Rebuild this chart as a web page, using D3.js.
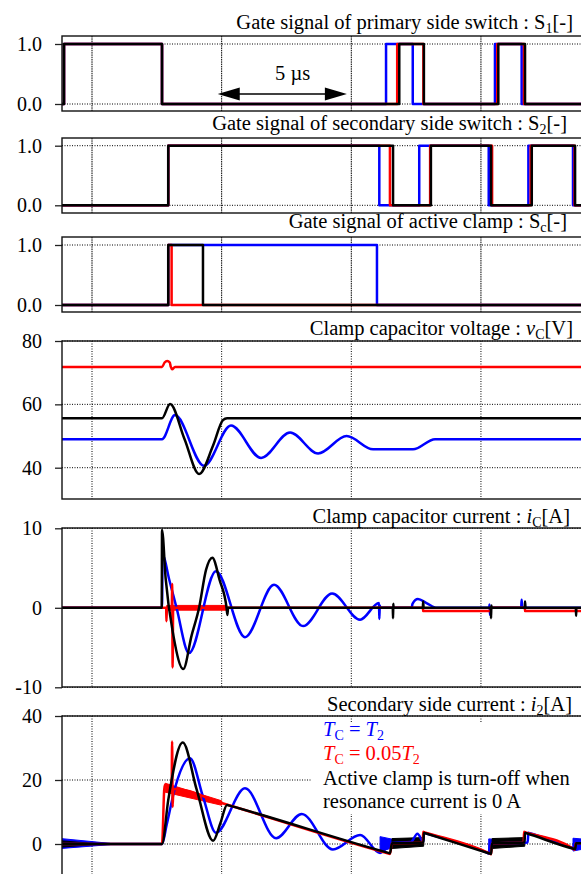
<!DOCTYPE html>
<html>
<head>
<meta charset="utf-8">
<script src="https://cdn.jsdelivr.net/npm/d3@7"></script>
<style>
body { margin: 0; background: #fff; }
svg, svg text { font-family: "Liberation Serif", "Times New Roman", "DejaVu Serif", serif; }
</style>
</head>
<body>
<svg id="chart" width="581" height="874" font-family="Liberation Serif, Times New Roman, DejaVu Serif, serif"></svg>
<script>
// time in µs, vertical grid every 5 µs
var gridTimes = [0, 5, 10, 15];
var gateTicks = [0, 1];
var vcTicks = [40, 60, 80];
var icTicks = [-10, 0, 10];
var i2Ticks = [0, 20, 40];

// gate signals [t, level]
var s1Black = [[-1.2,0],[-1.08,1],[2.70,0],[11.85,1],[12.80,0],[15.67,1],[16.70,0],[19,0]];
var s1Red   = [[-1.2,0],[-1.08,1],[2.70,0],[11.77,1],[12.78,0],[15.63,1],[16.66,0],[19,0]];
var s1Blue  = [[-1.2,0],[-1.08,1],[2.70,0],[11.34,1],[12.37,0],[15.54,1],[16.57,0],[19,0]];

var s2Black = [[-1.2,0],[2.94,1],[11.61,0],[13.07,1],[15.39,0],[16.96,1],[18.63,0],[19,0]];
var s2Red   = [[-1.2,0],[2.94,1],[11.49,0],[13.04,1],[15.43,0],[16.92,1],[18.61,0],[19,0]];
var s2Blue  = [[-1.2,0],[2.94,1],[11.08,0],[12.62,1],[15.30,0],[16.83,1],[18.55,0],[19,0]];

var scBlack = [[-1.2,0],[2.94,1],[4.28,0],[19,0]];
var scRed   = [[-1.2,0],[2.94,1],[3.07,0],[19,0]];
var scBlue  = [[-1.2,0],[2.94,1],[10.99,0],[19,0]];

// clamp capacitor voltage [t, V]
var vcRed   = [[-1.2,71.8],[2.70,71.8],[2.80,73.2],[2.90,73.7],[3.00,73.2],[3.04,71.8],[3.09,71.1],[3.20,71.8],[19,71.8]];
var vcBlack = [[-1.2,55.6],[2.70,55.6],[3.01,60.1],[3.57,49.0],[4.13,38.0],[4.67,47.0],[5.05,55.0],[5.21,55.6],[19,55.6]];
var vcBlue  = [[-1.2,49.0],[2.70,49.0],[3.20,56.6],[4.32,40.6],[5.36,53.3],[6.52,43.1],[7.64,51.1],[8.72,44.5],[9.82,50.0],[10.84,45.8],[12.38,45.8],[13.23,49.0],[19,49.0]];

// clamp capacitor current [t, A]
var icBlack = [[-1.2,0],[2.69,0],[2.70,9.8],[2.84,3.7],[3.14,-3.5],[3.52,-7.7],[3.84,-3.5],[4.13,0],[4.40,4.8],[4.64,6.3],[4.92,3.5],[5.19,0],[5.22,-0.9],[5.25,0],
  [11.60,0],[11.61,-1.3],[11.62,0.5],[11.63,0],[12.76,0],[12.77,0.8],[12.79,0],[15.38,0],[15.39,-1.3],[15.40,0.3],[15.41,0],[16.69,0],[16.70,0.8],[16.72,0],[18.66,0],[18.67,-1.0],[18.68,0],[19,0]];
var icBlue  = [[-1.2,0],[2.70,0],[2.72,6.6],[2.99,3.4],[3.26,0],[3.74,-5.7],[4.78,4.6],[5.90,-3.7],[7.02,2.9],[8.14,-2.3],[9.26,1.8],[10.34,-1.5],[11.07,0.6],[11.08,-1.4],[11.10,0.3],[11.12,0],
  [12.33,0],[12.36,0.5],[12.57,1.1],[12.90,0.6],[13.30,0],[15.32,0],[15.33,0.4],[15.35,-0.9],[15.37,0],[16.55,0],[16.57,1.0],[16.59,0],[19,0]];
var icRed   = [[-1.2,0],[2.86,0],[2.87,-1.7],[2.89,0],[3.08,0],[3.09,3.0],[3.11,-7.5],[3.13,0],[12.76,0],[12.77,-0.4],[15.38,-0.4],[15.39,0],[16.69,0],[16.70,-0.4],[19,-0.4]];
var icRedBand = [[2.88,-0.3,0.3],[5.2,-0.3,0.3]];

// secondary side current [t, A]
var i2Black = [[-1.2,0],[2.70,0],[2.94,13.7],[3.50,31.7],[4.04,16.9],[4.67,1.0],[4.95,6.5],[5.21,12.2],[5.30,12.0],[11.40,-2.7],[11.49,-2.9],[11.57,0.2],
  [12.78,0.5],[12.80,3.5],[12.86,3.35],[15.33,-2.95],[15.39,-3.1],[15.43,0.2],[16.68,0.5],[16.70,3.5],[16.76,3.35],[18.58,-1.5],[18.63,-1.6],[18.67,0.2],[19,0.2]];
var i2Blue  = [[-1.2,0],[2.70,0],[2.88,6.0],[3.20,17.5],[3.78,26.8],[4.29,14.5],[4.78,3.5],[5.90,17.4],[7.10,1.8],[8.09,9.4],[9.29,-1.7],[10.34,2.8],[11.11,-2.8],[11.58,0.3],
  [12.30,0.6],[12.55,3.2],[12.78,0.8],[12.80,3.5],[12.86,3.35],[15.25,-2.8],[15.30,-3.0],[15.35,0.2],[16.80,0.5],[16.83,3.5],[16.89,3.35],[18.50,-1.2],[18.55,-1.4],[18.60,0.2],[19,0.2]];
var i2Red   = [[-1.2,0],[2.70,0],[2.80,18.4],[3.07,17.6],[3.09,32.0],[3.11,11.6],[3.14,17.3],[5.0,12.8],[11.40,-2.9],[11.49,-3.1],[11.57,0.2],
  [12.76,0.5],[12.77,3.8],[12.83,3.65],[15.33,-2.95],[15.39,-3.2],[15.43,0.2],[16.65,0.5],[16.66,3.8],[16.72,3.65],[18.58,-1.6],[18.61,-1.8],[18.66,0.2],[19,0.2]];
// ringing envelopes [t, low, high]
var i2RedBand = [[2.82,16.2,19.0],[5.0,12.1,13.5]];
var i2BlackBands = [[[-1.2,-1.0,1.0],[0.2,-0.1,0.1]], [[11.57,-1.4,1.7],[12.79,-0.7,2.0]], [[15.43,-1.4,1.7],[16.69,-0.7,2.0]]];
var i2BlueBands = [[[-1.2,-1.4,1.7],[0.7,-0.2,0.2]], [[11.11,-2.4,2.3],[11.58,-1.2,1.5]], [[15.30,-2.0,1.6],[15.45,-1.5,1.5]], [[18.55,-2.2,1.8],[19,-1.5,1.5]]];

var FONT = 'Liberation Serif, Times New Roman, DejaVu Serif, serif';
var svg = d3.select('#chart');
var x = d3.scaleLinear().domain([0, 15]).range([92, 480.95]);
var left = 62, right = 582;
var blue = '#0000ff', red = '#ff0000', black = '#000000';

var panels = [
  {top: 36,  bottom: 111, dom: [0, 1],   rng: [104, 44],    ticks: gateTicks, fmt: d3.format('.1f'), step: true,
   series: [[s1Blue, blue], [s1Red, red], [s1Black, black]]},
  {top: 138, bottom: 213, dom: [0, 1],   rng: [205.3, 145.7], ticks: gateTicks, fmt: d3.format('.1f'), step: true,
   series: [[s2Blue, blue], [s2Red, red], [s2Black, black]]},
  {top: 237, bottom: 312, dom: [0, 1],   rng: [305, 245],   ticks: gateTicks, fmt: d3.format('.1f'), step: true,
   series: [[scBlue, blue], [scRed, red], [scBlack, black]]},
  {top: 341, bottom: 499, dom: [40, 80], rng: [467.7, 341], ticks: vcTicks, fmt: String,
   series: [[vcRed, red], [vcBlue, blue], [vcBlack, black]]},
  {top: 528, bottom: 687, dom: [-10, 10], rng: [687.3, 528.3], ticks: icTicks, fmt: String,
   series: [[icBlue, blue], [icRed, red], [icBlack, black]], bands: [[icRedBand, red]]},
  {top: 716, bottom: 880, dom: [0, 40],  rng: [844, 716],   ticks: i2Ticks, fmt: String,
   series: [[i2Blue, blue], [i2Red, red], [i2Black, black]],
   bands: i2BlueBands.map(function(b) { return [b, blue]; }).concat([[i2RedBand, red]]).concat(i2BlackBands.map(function(b) { return [b, black]; }))}
];

panels.forEach(function(p, i) {
  var y = d3.scaleLinear().domain(p.dom).range(p.rng);
  var g = svg.append('g');

  svg.append('clipPath').attr('id', 'clip' + i).append('rect')
    .attr('x', left).attr('y', p.top).attr('width', right - left).attr('height', p.bottom - p.top);

  // grid
  g.selectAll('.hg').data(p.ticks).enter().append('line')
    .attr('x1', left).attr('x2', right)
    .attr('y1', function(d) { return y(d); }).attr('y2', function(d) { return y(d); })
    .attr('stroke', '#000').attr('stroke-width', 1).attr('stroke-dasharray', '1,1.5');
  g.selectAll('.vg').data(gridTimes).enter().append('line')
    .attr('x1', function(d) { return x(d); }).attr('x2', function(d) { return x(d); })
    .attr('y1', p.top).attr('y2', p.bottom)
    .attr('stroke', '#000').attr('stroke-width', 1).attr('stroke-dasharray', i < 3 ? '1.5,0.8' : '1,1.5');

  var axis = d3.axisLeft(y).tickValues(p.ticks).tickSize(7).tickPadding(13).tickFormat(p.fmt);
  var ax = g.append('g').attr('transform', 'translate(' + left + ',0)').call(axis);
  ax.select('.domain').remove();
  ax.attr('font-family', FONT).attr('font-size', 20);
  ax.selectAll('line').attr('stroke', '#222').attr('stroke-width', 1.3);
  ax.selectAll('text').attr('fill', '#000');

  var plot = g.append('g').attr('clip-path', 'url(#clip' + i + ')');

  (p.bands || []).forEach(function(b) {
    plot.append('path').datum(b[0]).attr('fill', b[1]).attr('stroke', b[1]).attr('stroke-width', 1)
      .attr('d', d3.area().x(function(d) { return x(d[0]); })
        .y0(function(d) { return y(d[1]); }).y1(function(d) { return y(d[2]); }));
  });

  var line = d3.line().x(function(d) { return x(d[0]); }).y(function(d) { return y(d[1]); })
    .curve(p.step ? d3.curveStepAfter : d3.curveMonotoneX);
  p.series.forEach(function(s) {
    plot.append('path').datum(s[0]).attr('fill', 'none').attr('stroke', s[1])
      .attr('stroke-width', 2.5).attr('stroke-linejoin', 'round').attr('d', line);
  });

  g.append('rect').attr('x', left).attr('y', p.top).attr('width', right - left + 5).attr('height', p.bottom - p.top)
    .attr('fill', 'none').attr('stroke', '#111').attr('stroke-width', 1.4);
});

// titles and notes with sub/italic runs
function richText(xp, yp, anchor, parts, color) {
  var t = svg.append('text').attr('x', xp).attr('y', yp).attr('text-anchor', anchor)
    .attr('font-family', FONT).attr('font-size', 20.5).attr('fill', color || '#000');
  var shift = 0;
  parts.forEach(function(pt) {
    var s = t.append('tspan').text(pt.t);
    var want = pt.sub ? 4 : 0;
    if (want !== shift) { s.attr('dy', want - shift); shift = want; }
    if (pt.sub) s.attr('font-size', 14);
    if (pt.it) s.attr('font-style', 'italic');
  });
  return t;
}

richText(573, 29, 'end', [{t: 'Gate signal of primary side switch : S'}, {t: '1', sub: true}, {t: '[-]'}]);
richText(567, 130, 'end', [{t: 'Gate signal of secondary side switch : S'}, {t: '2', sub: true}, {t: '[-]'}]);
richText(567, 228, 'end', [{t: 'Gate signal of active clamp : S'}, {t: 'c', sub: true}, {t: '[-]'}]);
richText(573, 335, 'end', [{t: 'Clamp capacitor voltage : '}, {t: 'v', it: true}, {t: 'C', sub: true}, {t: '[V]'}]);
richText(570, 523, 'end', [{t: 'Clamp capacitor current : '}, {t: 'i', it: true}, {t: 'C', sub: true}, {t: '[A]'}]);
richText(572, 711, 'end', [{t: 'Secondary side current : '}, {t: 'i', it: true}, {t: '2', sub: true}, {t: '[A]'}]);

// 5 µs span marker
var arrowY = 94, ax1 = x(4.85), ax2 = x(9.83);
svg.append('line').attr('x1', ax1 + 15).attr('x2', ax2 - 15).attr('y1', arrowY).attr('y2', arrowY)
  .attr('stroke', '#000').attr('stroke-width', 1.5);
svg.append('path').attr('d', 'M' + ax1 + ',' + arrowY + 'l22,-6.5v13z').attr('fill', '#000');
svg.append('path').attr('d', 'M' + ax2 + ',' + arrowY + 'l-22,-6.5v13z').attr('fill', '#000');
svg.append('text').attr('x', 275).attr('y', 80).attr('font-family', FONT)
  .attr('font-size', 20.5).text('5 µs');

// legend
svg.append('rect').attr('x', 312).attr('y', 722).attr('width', 270).attr('height', 92).attr('fill', '#fff');
richText(323, 736, 'start', [{t: 'T', it: true}, {t: 'C', sub: true}, {t: ' = '}, {t: 'T', it: true}, {t: '2', sub: true}], blue);
richText(323, 760, 'start', [{t: 'T', it: true}, {t: 'C', sub: true}, {t: ' = 0.05'}, {t: 'T', it: true}, {t: '2', sub: true}], red);
richText(323, 785, 'start', [{t: 'Active clamp is turn-off when'}]);
richText(323, 808, 'start', [{t: 'resonance current is 0 A'}]);
</script>
</body>
</html>
